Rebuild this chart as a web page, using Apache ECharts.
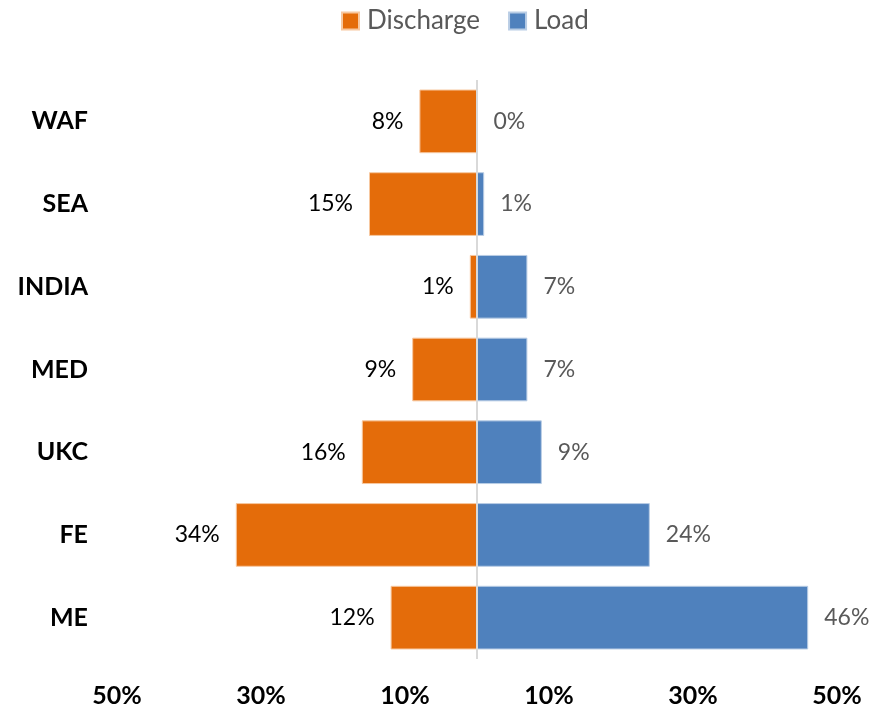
<!DOCTYPE html>
<html>
<head>
<meta charset="utf-8">
<script src="https://cdn.jsdelivr.net/npm/echarts@6/dist/echarts.min.js"></script>
<style>html,body{margin:0;padding:0;background:#fff}#c{width:883px;height:711px}</style>
</head>
<body>
<div id="c"></div>
<script>
const categories = ['WAF', 'SEA', 'INDIA', 'MED', 'UKC', 'FE', 'ME'];
const discharge = [8, 15, 1, 9, 16, 33.5, 12];
const load = [0, 1, 7, 7, 9, 24, 46];
const tickValues = [-50, -30, -10, 10, 30, 50];

const FONT = 'Lato, "Open Sans", sans-serif';
const chart = echarts.init(document.getElementById('c'));
chart.setOption({
  animation: false,
  textStyle: { fontFamily: FONT },
  legend: {
    top: 3, left: 336,
    itemWidth: 17, itemHeight: 17, itemGap: 28,
    textStyle: { fontSize: 26, color: '#595959', fontFamily: FONT, padding: [0, 0, 0, 3] },
    data: [{ name: 'Discharge', icon: 'rect' }, { name: 'Load', icon: 'rect' }]
  },
  grid: { left: 117, right: 46, top: 80, bottom: 52, containLabel: false },
  xAxis: {
    type: 'value', min: -50, max: 50, interval: 10,
    axisLine: { show: false }, axisTick: { show: false }, splitLine: { show: false },
    axisLabel: {
      margin: 24, fontSize: 25, fontWeight: 'bold', color: '#000', fontFamily: FONT,
      formatter: v => tickValues.includes(v) ? Math.abs(v) + '%' : ''
    }
  },
  yAxis: {
    type: 'category', data: categories, inverse: true,
    axisLine: { show: false, onZero: false }, axisTick: { show: false },
    axisLabel: { margin: 29, fontSize: 25, fontWeight: 'bold', color: '#000', fontFamily: FONT }
  },
  series: [
    {
      name: 'Discharge', type: 'bar', barWidth: '77%', barGap: '-100%',
      data: discharge.map(v => -v),
      itemStyle: { color: '#E46C0A', borderColor: '#F7C8A0', borderWidth: 1 },
      label: {
        show: true, position: 'left', distance: 16, fontSize: 23, color: '#000', fontFamily: FONT,
        formatter: p => Math.round(Math.abs(p.value)) + '%'
      },
      markLine: {
        silent: true, symbol: 'none', label: { show: false },
        lineStyle: { color: '#D9D9D9', width: 2, type: 'solid' },
        data: [{ xAxis: 0 }]
      }
    },
    {
      name: 'Load', type: 'bar', barWidth: '77%', barGap: '-100%',
      data: load,
      itemStyle: { color: '#4F81BD', borderColor: '#B9CDE5', borderWidth: 1 },
      label: {
        show: true, position: 'right', distance: 16, fontSize: 23, color: '#595959', fontFamily: FONT,
        formatter: p => p.value + '%'
      }
    }
  ]
});
</script>
</body>
</html>
